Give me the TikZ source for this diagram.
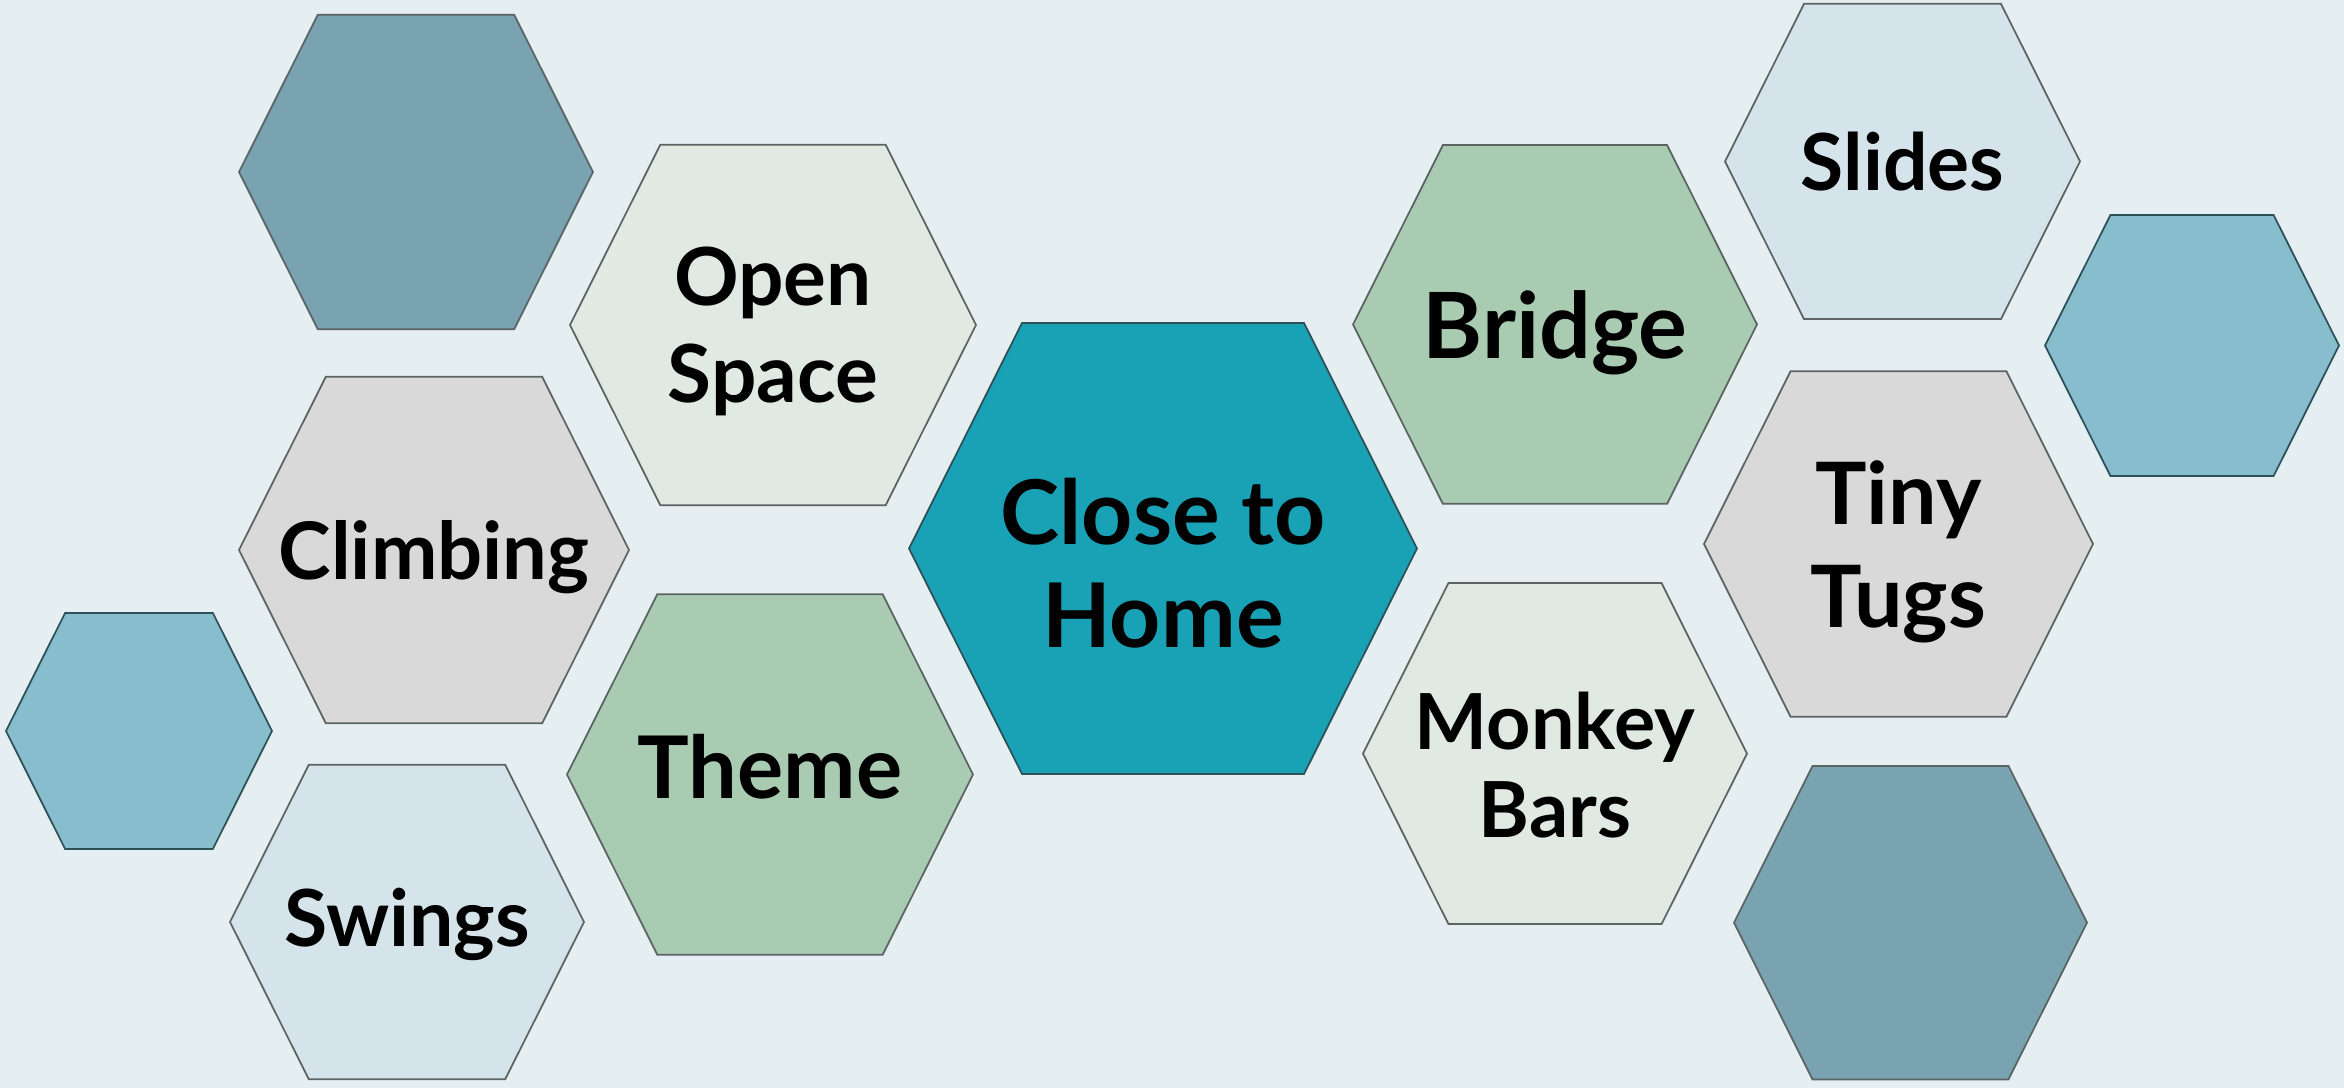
\documentclass[tikz,border=0pt]{standalone}
\usepackage{fontspec}
\setmainfont{Lato}
\usetikzlibrary{positioning}

\definecolor{bgc}{HTML}{E5EEF0}
\definecolor{darkhexc}{HTML}{79A3B1}
\definecolor{grnlt}{HTML}{E0EAE2}
\definecolor{greyc}{HTML}{D9D9D9}
\definecolor{bluelt}{HTML}{D5E4EB}
\definecolor{grnmd}{HTML}{A9CBB2}
\definecolor{tealc}{HTML}{19A1B6}
\definecolor{bluesm}{HTML}{87BDCD}
\definecolor{edgec}{HTML}{5C6363}
\definecolor{edgedk}{HTML}{2E5159}

% name, x, y, half width, fill style, label options, label
\newcommand{\hexcell}[7]{%
  \begin{scope}[shift={(#2,#3)}]
    \draw[#5] (-#4,0) -- ({-0.555*#4},{-0.888*#4}) -- ({0.555*#4},{-0.888*#4})
      -- (#4,0) -- ({0.555*#4},{0.888*#4}) -- ({-0.555*#4},{0.888*#4}) -- cycle;
    \node[cell text, #6] (#1) at (0,0) {#7};
  \end{scope}}

\begin{document}
\begin{tikzpicture}[x=0.1mm, y=-0.1mm, line width=0.5pt, line join=miter,
  cell/.style = {draw=edgec},
  darkhex/.style = {cell, fill=darkhexc},
  pale/.style = {cell, fill=grnlt},
  grey/.style = {cell, fill=greyc},
  sky/.style = {cell, fill=bluelt},
  sage/.style = {cell, fill=grnmd},
  hub/.style = {draw=edgedk, fill=tealc},
  bluehex/.style = {draw=edgedk, fill=bluesm},
  cell text/.style = {align=center, inner sep=0pt, text depth=0pt, text=black},
  fs/.style 2 args = {font=\bfseries\fontsize{#1}{#2}\selectfont}]
  \fill[bgc] (0,0) rectangle (2344,1088);
  \useasboundingbox (0,0) rectangle (2344,1088);

  % left side
  \hexcell{deco1}{416}{172}{177}{darkhex}{}{}
  \hexcell{open}{773}{325}{203}{pale}{fs={22.8}{27.6}}{Open\\Space}
  \hexcell{climb}{434}{550}{195}{grey}{fs={22.6}{26}}{Climbing}
  \hexcell{deco2}{139}{731}{133}{bluehex}{}{}
  \hexcell{swing}{407}{922}{177}{sky}{fs={22.4}{26}, yshift=0.5mm}{Swings}
  \hexcell{theme}{770}{774.5}{203}{sage}{fs={24.6}{28}, yshift=0.8mm}{Theme}

  % centre
  \hexcell{home}{1163}{548.5}{254}{hub}{fs={25.4}{29.2}, yshift=-1.45mm}{Close to\\Home}

  % right side
  \hexcell{bridge}{1555}{324.5}{202}{sage}{fs={26}{29}}{Bridge}
  \hexcell{monkey}{1555}{753.6}{192}{pale}{fs={22}{25}, yshift=-1.1mm}{Monkey\\Bars}
  \hexcell{slide}{1902.5}{161.5}{177.5}{sky}{fs={22.4}{26}}{Slides}
  \hexcell{deco3}{2192}{345.5}{147}{bluehex}{}{}
  \hexcell{tugs}{1898.5}{544}{194.5}{grey}{fs={24.5}{29.2}}{Tiny\\Tugs}
  \hexcell{deco4}{1910.5}{922.7}{176.5}{darkhex}{}{}
\end{tikzpicture}
\end{document}
